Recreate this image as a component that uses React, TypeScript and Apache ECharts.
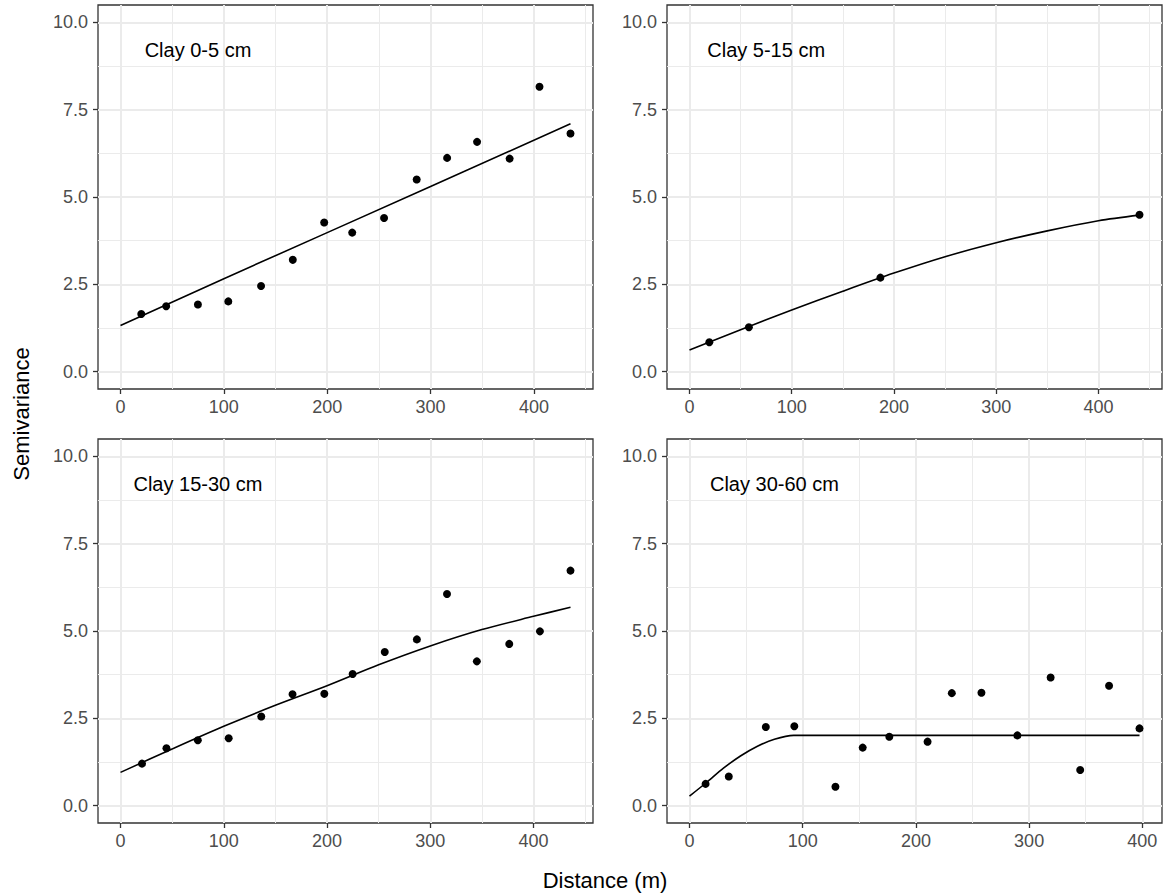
import React, { useEffect, useRef } from "react";
import * as echarts from "echarts";

// ---------- data ----------
const panelTitles = ["Clay 0-5 cm", "Clay 5-15 cm", "Clay 15-30 cm", "Clay 30-60 cm"];

const clay0_5Dist = [20.1, 44.2, 74.9, 104.3, 136, 166.7, 197.1, 224.2, 255, 286.6, 316, 345, 376.5, 405.4, 435.4];
const clay0_5Gamma = [1.65, 1.87, 1.92, 2.01, 2.45, 3.2, 4.27, 3.98, 4.4, 5.5, 6.12, 6.58, 6.1, 8.16, 6.82];
const clay0_5FitDist = [0, 100, 200, 300, 435.4];
const clay0_5FitGamma = [1.32, 2.66, 3.98, 5.3, 7.1];

const clay5_15Dist = [19.4, 58.1, 186.7, 440.2];
const clay5_15Gamma = [0.84, 1.27, 2.69, 4.49];
const clay5_15FitDist = [0, 50, 100, 150, 200, 250, 300, 350, 400, 440.2];
const clay5_15FitGamma = [0.62, 1.2, 1.76, 2.3, 2.82, 3.29, 3.69, 4.03, 4.32, 4.48];

const clay15_30Dist = [20.8, 44.5, 74.9, 104.8, 136.3, 166.6, 197.4, 224.8, 255.9, 287, 316.2, 345.1, 376.5, 406.2, 435.8];
const clay15_30Gamma = [1.2, 1.64, 1.87, 1.93, 2.55, 3.19, 3.2, 3.77, 4.4, 4.76, 6.06, 4.13, 4.63, 4.99, 6.73];
const clay15_30FitDist = [0, 50, 100, 150, 200, 250, 300, 350, 400, 435.8];
const clay15_30FitGamma = [0.95, 1.62, 2.27, 2.87, 3.43, 4.03, 4.57, 5.04, 5.42, 5.68];

const clay30_60Dist = [14.2, 34.7, 67.4, 92.6, 128.9, 153, 176.5, 210.3, 231.7, 257.9, 289.6, 319, 345.1, 370.6, 397.5];
const clay30_60Gamma = [0.62, 0.83, 2.25, 2.27, 0.54, 1.66, 1.97, 1.83, 3.22, 3.23, 2.01, 3.67, 1.02, 3.43, 2.21];
const clay30_60FitDist = [0, 15, 30, 45, 60, 75, 92, 397.5];
const clay30_60FitGamma = [0.27, 0.66, 1.07, 1.42, 1.7, 1.9, 2.01, 2.01];

const xMajorTicks = [0, 100, 200, 300, 400];
const xMinorTicks = [50, 150, 250, 350, 450];
const yMajorTicks = [0, 2.5, 5, 7.5, 10];
const yMinorTicks = [1.25, 3.75, 6.25, 8.75];
const yLimits = [0, 10];

const xTitle = "Distance (m)";
const yTitle = "Semivariance";

// ---------- layout ----------
const W = 1167;
const H = 896;
const FONT = "'Liberation Sans', Arial, Helvetica, sans-serif";
const panelW = 495;
const panelH = 384;
const gridPos = [
  { left: 98, top: 5 },
  { left: 667, top: 5 },
  { left: 98, top: 439 },
  { left: 667, top: 439 },
];
const titleAt = [75, 9.2];

const panels = [
  { dist: clay0_5Dist, gamma: clay0_5Gamma, fitD: clay0_5FitDist, fitG: clay0_5FitGamma, smooth: false },
  { dist: clay5_15Dist, gamma: clay5_15Gamma, fitD: clay5_15FitDist, fitG: clay5_15FitGamma, smooth: true },
  { dist: clay15_30Dist, gamma: clay15_30Gamma, fitD: clay15_30FitDist, fitG: clay15_30FitGamma, smooth: true },
  { dist: clay30_60Dist, gamma: clay30_60Gamma, fitD: clay30_60FitDist, fitG: clay30_60FitGamma, smooth: true },
];

const zip = (a: number[], b: number[]) => a.map((v, i) => [v, b[i]]);

function buildOption() {
  const grids: any[] = [];
  const xAxes: any[] = [];
  const yAxes: any[] = [];
  const series: any[] = [];

  const yPad = (yLimits[1] - yLimits[0]) * 0.05;
  const yMin = yLimits[0] - yPad;
  const yMax = yLimits[1] + yPad;

  panels.forEach((p, i) => {
    const maxD = Math.max(...p.dist, ...p.fitD);
    const pad = maxD * 0.05;
    const xMin = -pad;
    const xMax = maxD + pad;

    grids.push({
      left: gridPos[i].left,
      top: gridPos[i].top,
      width: panelW,
      height: panelH,
      show: true,
      backgroundColor: "#ffffff",
      borderColor: "#333333",
      borderWidth: 1.3,
      containLabel: false,
      outerBoundsMode: "none",
    });

    xAxes.push({
      type: "value",
      gridIndex: i,
      min: xMin,
      max: xMax,
      splitLine: { show: false },
      minorSplitLine: { show: false },
      axisLine: { show: false, onZero: false },
      axisTick: {
        show: true,
        length: 5,
        lineStyle: { color: "#333333", width: 1.3 },
        customValues: xMajorTicks,
      },
      axisLabel: {
        customValues: xMajorTicks,
        color: "#4d4d4d",
        fontSize: 18,
        fontFamily: FONT,
        margin: 9,
        formatter: (v: number) => String(v),
      },
    });

    yAxes.push({
      type: "value",
      gridIndex: i,
      min: yMin,
      max: yMax,
      splitLine: { show: false },
      axisLine: { show: false, onZero: false },
      axisTick: {
        show: true,
        length: 5,
        lineStyle: { color: "#333333", width: 1.3 },
        customValues: yMajorTicks,
      },
      axisLabel: {
        customValues: yMajorTicks,
        color: "#4d4d4d",
        fontSize: 18,
        fontFamily: FONT,
        margin: 10,
        formatter: (v: number) => v.toFixed(1),
      },
    });

    const gridLines: any[] = [];
    xMajorTicks.filter((v) => v > xMin && v < xMax).forEach((v) =>
      gridLines.push({ xAxis: v, lineStyle: { width: 2 } })
    );
    xMinorTicks.filter((v) => v > xMin && v < xMax).forEach((v) =>
      gridLines.push({ xAxis: v, lineStyle: { width: 1 } })
    );
    yMajorTicks.forEach((v) => gridLines.push({ yAxis: v, lineStyle: { width: 2 } }));
    yMinorTicks.forEach((v) => gridLines.push({ yAxis: v, lineStyle: { width: 1 } }));

    series.push({
      type: "line",
      xAxisIndex: i,
      yAxisIndex: i,
      data: zip(p.fitD, p.fitG),
      showSymbol: false,
      symbol: "none",
      smooth: p.smooth ? 0.3 : false,
      silent: true,
      z: 3,
      lineStyle: { color: "#000000", width: 1.6 },
      markLine: {
        silent: true,
        z: 1,
        symbol: ["none", "none"],
        label: { show: false },
        emphasis: { disabled: true },
        lineStyle: { color: "#ebebeb", type: "solid" },
        data: gridLines,
      },
    });

    series.push({
      type: "scatter",
      xAxisIndex: i,
      yAxisIndex: i,
      data: zip(p.dist, p.gamma),
      symbol: "circle",
      symbolSize: 8,
      silent: true,
      z: 4,
      itemStyle: { color: "#000000", opacity: 1 },
    });

    series.push({
      type: "scatter",
      xAxisIndex: i,
      yAxisIndex: i,
      data: [titleAt],
      symbol: "circle",
      symbolSize: 1,
      silent: true,
      z: 5,
      itemStyle: { color: "rgba(0,0,0,0)", opacity: 1 },
      label: {
        show: true,
        position: "inside",
        formatter: panelTitles[i],
        color: "#000000",
        fontSize: 20,
        fontFamily: FONT,
      },
    });
  });

  return {
    animation: false,
    backgroundColor: "#ffffff",
    textStyle: { fontFamily: FONT },
    grid: grids,
    xAxis: xAxes,
    yAxis: yAxes,
    series,
    graphic: [
      {
        type: "text",
        x: 605,
        y: 880,
        style: {
          text: xTitle,
          fill: "#000000",
          font: `22px ${FONT}`,
          textAlign: "center",
          textVerticalAlign: "middle",
        },
      },
      {
        type: "text",
        x: 21,
        y: 414,
        rotation: Math.PI / 2,
        style: {
          text: yTitle,
          fill: "#000000",
          font: `22px ${FONT}`,
          textAlign: "center",
          textVerticalAlign: "middle",
        },
      },
    ],
  };
}

export default function App() {
  const ref = useRef<HTMLDivElement>(null);
  useEffect(() => {
    if (!ref.current) return;
    const chart = echarts.init(ref.current, null, { renderer: "svg" });
    chart.setOption(buildOption() as any);
    return () => chart.dispose();
  }, []);
  return (
    <div
      ref={ref}
      style={{ position: "fixed", left: 0, top: 0, width: W, height: H, background: "#fff" }}
    />
  );
}
